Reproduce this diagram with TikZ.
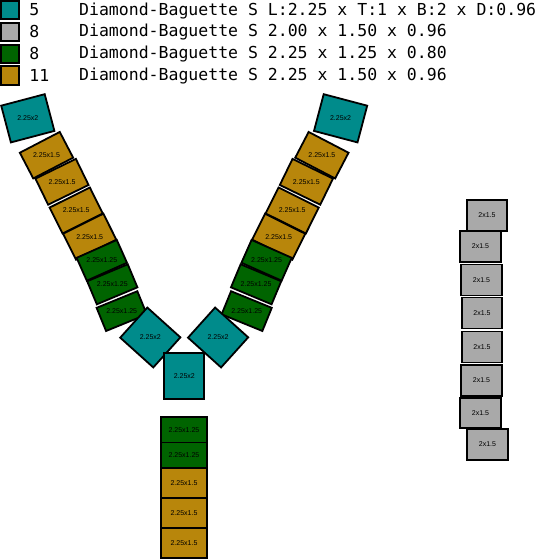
\documentclass[tikz,border=0pt]{standalone}
\usepackage{fontspec}
\usepackage{xcolor}
\usepackage{tikz}
\usetikzlibrary{positioning}
\newfontfamily\legendfont{DejaVu Sans Mono}
\newfontfamily\tagfont{Liberation Sans}

\definecolor{stoneteal}{RGB}{0,139,139}
\definecolor{stonegray}{RGB}{169,169,169}
\definecolor{stonegreen}{RGB}{0,100,0}
\definecolor{stonegold}{RGB}{184,134,11}

% one stone: name, x, y, rotation, width, height, fill, label
\newcommand{\stone}[8]{%
  \node[stone, fill=#7, minimum width=#5pt, minimum height=#6pt, rotate=#4]
    (#1) at (#2,#3) {};
  \node[tag] (#1t) at (#1.center) {#8};}

\begin{document}
\begin{tikzpicture}[
  x=1pt, y=-1pt,
  stone/.style={draw, line width=1.8pt, inner sep=0pt, outer sep=0pt},
  swatch/.style={draw, line width=2pt, minimum size=18.5pt, inner sep=0pt},
  tag/.style={font=\tagfont\fontsize{7}{8}\selectfont, inner sep=0pt},
  legend/.style={font=\legendfont\fontsize{16.5}{19}\selectfont, inner sep=0pt}
]
\useasboundingbox (0,0) rectangle (535,560);

% Legend
\node[swatch, fill=stoneteal]  (sw1) at (10,10)   {};
\node[swatch, fill=stonegray]  (sw2) at (10,31.9) {};
\node[swatch, fill=stonegreen] (sw3) at (10,53.8) {};
\node[swatch, fill=stonegold]  (sw4) at (10,75.7) {};

\node[legend, right=9pt of sw1] (n1) {5};
\node[legend, right=9pt of sw2] (n2) {8};
\node[legend, right=9pt of sw3] (n3) {8};
\node[legend, right=9pt of sw4] (n4) {11};

\node[legend, anchor=base west] (d1) at (79,15)
  {Diamond-Baguette S L:2.25 x T:1 x B:2 x D:0.96};
\node[legend, anchor=base west] (d2) at (79,36.7)
  {Diamond-Baguette S 2.00 x 1.50 x 0.96};
\node[legend, anchor=base west] (d3) at (79,58.4)
  {Diamond-Baguette S 2.25 x 1.25 x 0.80};
\node[legend, anchor=base west] (d4) at (79,80.1)
  {Diamond-Baguette S 2.25 x 1.50 x 0.96};

% Left arm
\stone{l1}{27.8}{118.3}{14.8}{45}{38}{stoneteal}{2.25x2}
\stone{l2}{46.5}{155.2}{27.5}{45}{29}{stonegold}{2.25x1.5}
\stone{l3}{62}{181.8}{26}{45}{29}{stonegold}{2.25x1.5}
\stone{l4}{76.2}{210.5}{26.5}{45}{29}{stonegold}{2.25x1.5}
\stone{l5}{89.7}{236.7}{26.5}{45}{29}{stonegold}{2.25x1.5}
\stone{l6}{101.8}{260.3}{24}{44}{25}{stonegreen}{2.25x1.25}
\stone{l7}{112.3}{284.3}{22.7}{44}{25}{stonegreen}{2.25x1.25}
\stone{l8}{121.7}{311.1}{22.2}{44}{25}{stonegreen}{2.25x1.25}
\stone{l9}{150.3}{337.5}{-42}{44.5}{40.5}{stoneteal}{2.25x2}

% Right arm
\stone{r1}{340.6}{118.3}{-14.8}{45}{38}{stoneteal}{2.25x2}
\stone{r2}{321.9}{155.2}{-27.5}{45}{29}{stonegold}{2.25x1.5}
\stone{r3}{306.4}{181.8}{-26}{45}{29}{stonegold}{2.25x1.5}
\stone{r4}{292.2}{210.5}{-26.5}{45}{29}{stonegold}{2.25x1.5}
\stone{r5}{278.7}{236.7}{-26.5}{45}{29}{stonegold}{2.25x1.5}
\stone{r6}{266.6}{260.3}{-24}{44}{25}{stonegreen}{2.25x1.25}
\stone{r7}{256.1}{284.3}{-22.7}{44}{25}{stonegreen}{2.25x1.25}
\stone{r8}{246.7}{311.1}{-22.2}{44}{25}{stonegreen}{2.25x1.25}
\stone{r9}{218.1}{337.5}{-42}{44.5}{40.5}{stoneteal}{2.25x2}

% Centre stone
\stone{c0}{184.3}{375.8}{0}{40}{46}{stoneteal}{2.25x2}

% Drop column
\stone{c1}{184}{429.8}{0}{46}{25.5}{stonegreen}{2.25x1.25}
\stone{c2}{184}{455.3}{0}{46}{25.5}{stonegreen}{2.25x1.25}
\stone{c3}{184}{483}{0}{46}{30}{stonegold}{2.25x1.5}
\stone{c4}{184}{513}{0}{46}{30}{stonegold}{2.25x1.5}
\stone{c5}{184}{543}{0}{46}{30}{stonegold}{2.25x1.5}

% Spare column
\stone{g1}{487}{215.5}{0}{40.5}{30.5}{stonegray}{2x1.5}
\stone{g2}{480.5}{246.5}{0}{40.5}{31}{stonegray}{2x1.5}
\stone{g3}{481.5}{280}{0}{40.5}{31}{stonegray}{2x1.5}
\stone{g4}{482}{313}{0}{40.5}{31}{stonegray}{2x1.5}
\stone{g5}{482}{347}{0}{40.5}{31}{stonegray}{2x1.5}
\stone{g6}{481.5}{380.5}{0}{40.5}{31}{stonegray}{2x1.5}
\stone{g7}{480.5}{413}{0}{40.5}{30.5}{stonegray}{2x1.5}
\stone{g8}{487.5}{444.5}{0}{40.5}{30.5}{stonegray}{2x1.5}

\end{tikzpicture}
\end{document}
